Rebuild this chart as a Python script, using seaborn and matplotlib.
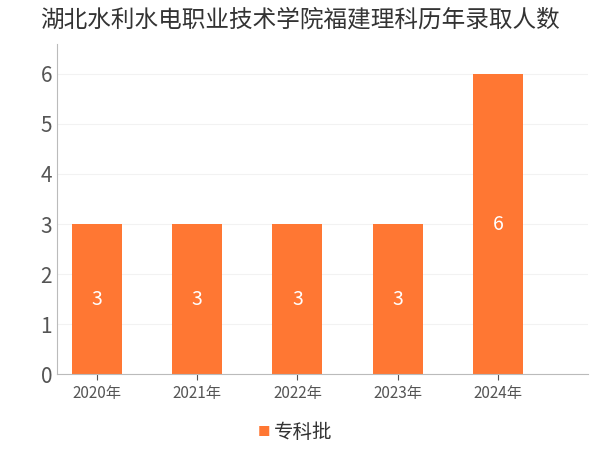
import matplotlib
matplotlib.use("Agg")
import matplotlib.pyplot as plt
import seaborn as sns
import pandas as pd

plt.rcParams["font.family"] = ["Noto Sans CJK SC", "DejaVu Sans"]

years = ["2020年", "2021年", "2022年", "2023年", "2024年"]
counts = [3, 3, 3, 3, 6]
series_name = "专科批"
title = "湖北水利水电职业技术学院福建理科历年录取人数"

df = pd.DataFrame({"year": years, "count": counts, "batch": series_name})

fig = plt.figure(figsize=(6, 4.5), dpi=100)
ax = fig.add_axes([0.095, 0.168, 0.885, 0.735])
sns.barplot(data=df, x="year", y="count", hue="batch", palette=["#FF7733"],
            saturation=1, width=0.5, ax=ax, legend=False)

for i, v in enumerate(counts):
    ax.text(i, v / 2, str(v), ha="center", va="center", color="white", fontsize=14)

ax.set_xlim(-0.4, 4.9)
ax.set_ylim(0, 6.6)
ax.set_yticks(range(0, 7))
ax.tick_params(axis="y", labelsize=15, colors="#555555", length=0)
ax.tick_params(axis="x", labelsize=11, colors="#555555", length=4)
ax.set_xlabel("")
ax.set_ylabel("")
ax.grid(axis="y", color="#f2f2f2", linewidth=0.8)
ax.set_axisbelow(True)
for s in ["top", "right"]:
    ax.spines[s].set_visible(False)
for s in ["left", "bottom"]:
    ax.spines[s].set_color("#bbbbbb")

fig.text(0.5, 0.955, title, ha="center", va="center", fontsize=17, color="#333333")
fig.text(0.44, 0.04, "■", ha="center", va="center", fontsize=9, color="#FF7733")
fig.text(0.505, 0.04, series_name, ha="center", va="center", fontsize=14, color="#333333")

fig.savefig("out.png", dpi=100)
